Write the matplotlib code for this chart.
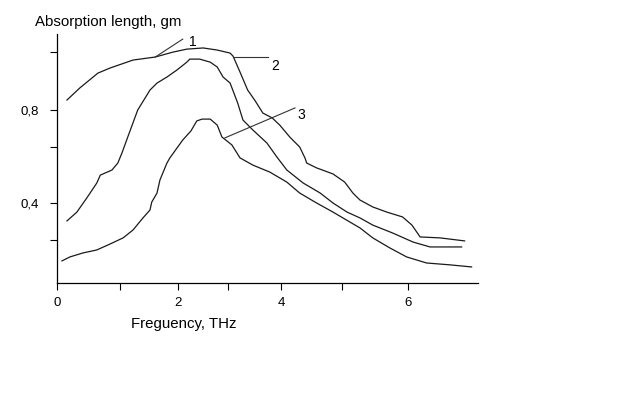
import matplotlib
matplotlib.use('Agg')
import matplotlib.pyplot as plt

plt.rcParams['font.family'] = ['Liberation Sans', 'DejaVu Sans']

# curve 1 (top)
freq1 = [0.17, 0.39, 0.70, 0.91, 1.30, 1.68, 1.98, 2.22, 2.50, 2.74, 2.96, 3.01,
         3.04, 3.13, 3.26, 3.38, 3.52, 3.68, 3.81, 3.98, 4.15, 4.24, 4.27, 4.44,
         4.72, 4.92, 5.06, 5.18, 5.40, 5.64, 5.91, 6.07, 6.21, 6.55, 6.97]
absl1 = [0.843, 0.895, 0.959, 0.981, 1.015, 1.028, 1.049, 1.062, 1.067, 1.058,
         1.045, 1.032, 1.015, 0.963, 0.886, 0.843, 0.787, 0.766, 0.735, 0.684,
         0.641, 0.594, 0.572, 0.551, 0.525, 0.490, 0.443, 0.413, 0.383, 0.361,
         0.340, 0.305, 0.254, 0.250, 0.237]

# curve 2 (middle)
freq2 = [0.17, 0.34, 0.51, 0.68, 0.74, 0.94, 1.04, 1.11, 1.21, 1.38, 1.59, 1.71,
         1.88, 2.05, 2.22, 2.27, 2.44, 2.62, 2.74, 2.84, 2.96, 3.09, 3.18, 3.35,
         3.59, 3.76, 3.93, 4.21, 4.50, 4.72, 4.96, 5.18, 5.40, 5.74, 6.09, 6.38,
         6.92]
absl2 = [0.323, 0.361, 0.422, 0.486, 0.520, 0.542, 0.572, 0.615, 0.684, 0.800,
         0.886, 0.916, 0.942, 0.972, 1.006, 1.019, 1.019, 1.006, 0.985, 0.942,
         0.916, 0.830, 0.757, 0.714, 0.658, 0.598, 0.542, 0.486, 0.443, 0.400,
         0.361, 0.336, 0.305, 0.271, 0.232, 0.211, 0.211]

# curve 3 (bottom)
freq3 = [0.085, 0.22, 0.44, 0.68, 0.91, 1.13, 1.30, 1.47, 1.59, 1.62, 1.71, 1.76,
         1.88, 1.93, 2.15, 2.29, 2.39, 2.48, 2.62, 2.74, 2.82, 2.99, 3.13, 3.35,
         3.64, 3.93, 4.15, 4.44, 4.72, 5.01, 5.18, 5.40, 5.69, 5.98, 6.32, 6.72,
         7.09]
absl3 = [0.151, 0.168, 0.185, 0.198, 0.224, 0.250, 0.284, 0.336, 0.370, 0.404,
         0.443, 0.499, 0.572, 0.594, 0.671, 0.710, 0.753, 0.761, 0.761, 0.735,
         0.684, 0.650, 0.594, 0.563, 0.533, 0.490, 0.443, 0.400, 0.361, 0.318,
         0.293, 0.250, 0.207, 0.168, 0.142, 0.134, 0.125]

# leader lines: (x0, y0, x1, y1, label, label_x, label_y)
leaders = [
    (1.68, 1.028, 2.15, 1.105, '1', 2.32, 1.092),
    (3.01, 1.028, 3.61, 1.028, '2', 3.73, 0.989),
    (2.87, 0.680, 4.07, 0.809, '3', 4.17, 0.779),
]

# tick positions as drawn on the original (hand-placed, not evenly spaced)
xticks = [0, 1.08, 2.07, 2.92, 3.83, 4.87, 6.0]
xticklabels = ['0', '', '2', '', '4', '', '6']
yticks = [0.241, 0.400, 0.641, 0.800, 1.049]
yticklabels = ['', '0,4', '', '0,8', '']

fig = plt.figure(figsize=(6.4, 3.96), dpi=100)
ax = fig.add_axes([0.0891, 0.2854, 0.6578, 0.6287])

for fx, ay in [(freq1, absl1), (freq2, absl2), (freq3, absl3)]:
    ax.plot(fx, ay, color='#1a1a1a', lw=0.9)

for x0, y0, x1, y1, lab, lx, ly in leaders:
    ax.plot([x0, x1], [y0, y1], color='#333333', lw=0.8)
    ax.text(lx, ly, lab, fontsize=10, ha='center', va='center')

ax.set_xlim(0, 7.2)
ax.set_ylim(0.056, 1.127)
ax.set_xticks(xticks)
ax.set_xticklabels(xticklabels)
ax.set_yticks(yticks)
ax.set_yticklabels(yticklabels)
ax.tick_params(direction='out', length=5, width=0.8, labelsize=9.5)
ax.tick_params(axis='y', pad=8)
ax.tick_params(axis='x', pad=5)
for s in ['top', 'right']:
    ax.spines[s].set_visible(False)
for s in ['left', 'bottom']:
    ax.spines[s].set_linewidth(0.9)

fig.text(35 / 640, 1 - 22 / 396, 'Absorption length, gm', fontsize=10.8,
         ha='left', va='center')
fig.text(0.287, 1 - 324 / 396, 'Freguency, THz', fontsize=10.8,
         ha='center', va='center')

fig.savefig('out.png', dpi=100)
